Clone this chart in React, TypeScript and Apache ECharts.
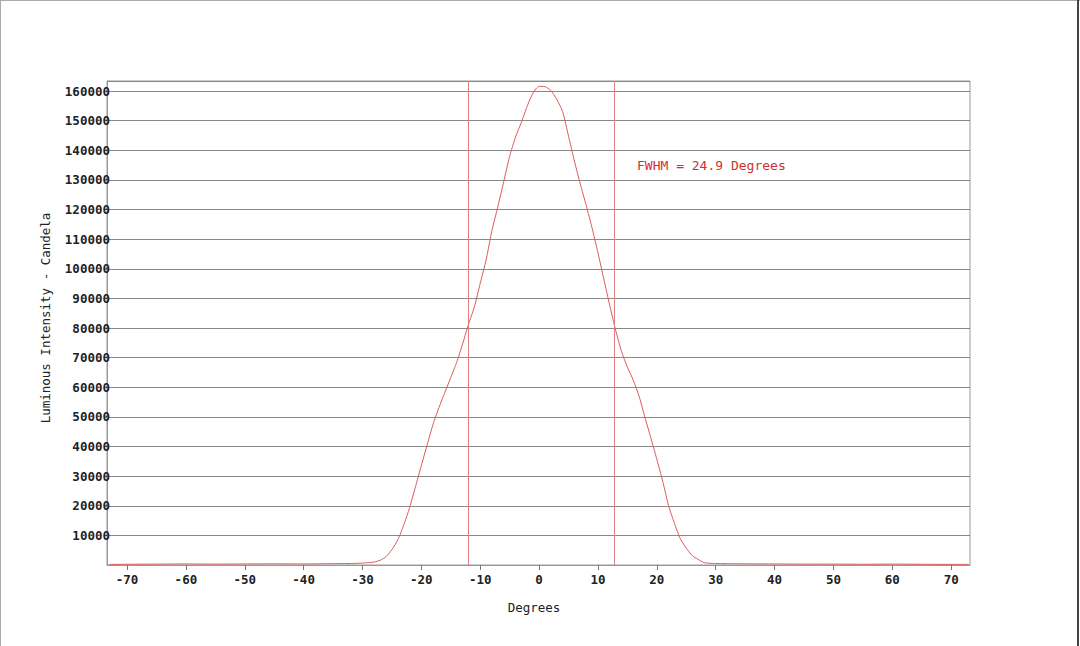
import React, { useEffect, useRef } from "react";
import * as echarts from "echarts";

const degrees = [-73,-70,-65,-60,-55,-50,-45,-40,-35,-32,-30,-29,-28,-27,-26,-25,-24,-23,-22,-21,-20,-19,-18,-17,-16,-15,-14,-13,-12,-11,-10,-9,-8,-7,-6,-5,-4,-3,-2,-1,0,1,2,3,4,5,6,7,8,9,10,11,12,13,14,15,16,17,18,19,20,21,22,23,24,25,26,27,28,29,30,32,35,40,45,50,55,60,65,70,73];
const intensity = [200,250,300,350,300,350,400,350,450,500,650,800,1000,1600,2800,5200,8500,13400,19400,26400,33600,40700,47600,53200,58300,63300,68400,74600,81200,87100,95100,103000,113000,121000,129500,138000,144500,149500,155000,159500,161600,161500,160200,157200,153100,144800,136400,128600,121400,113800,105400,96500,87600,79300,72100,66800,62400,56900,49700,42800,35700,28300,20000,14000,8800,5700,3200,1900,800,600,500,450,400,350,300,300,250,300,250,200,200];
const xTicks = [-70,-60,-50,-40,-30,-20,-10,0,10,20,30,40,50,60,70];
const fwhmBounds = [-12.05, 12.85];
const xName = "Degrees";
const yName = "Luminous Intensity - Candela";
const annotation = "FWHM = 24.9 Degrees";

const MONO = "DejaVu Sans Mono";

export default function App() {
  const ref = useRef<HTMLDivElement>(null);
  useEffect(() => {
    document.body.style.margin = "0";
    const chart = echarts.init(ref.current!, null, { renderer: "svg" });
    const data = degrees.map((d, i) => [d, intensity[i]]);
    chart.setOption({
      animation: false,
      backgroundColor: "#ffffff",
      grid: { left: 107, right: 110, top: 81, bottom: 81, show: true, borderColor: "#999", borderWidth: 1 },
      xAxis: {
        type: "value",
        min: -73.4,
        max: 73.2,
        axisLine: { show: true, onZero: false, lineStyle: { color: "#999" } },
        axisTick: { show: true, customValues: xTicks, length: 5, lineStyle: { color: "#777" } },
        axisLabel: { customValues: xTicks, margin: 8, fontFamily: MONO, fontSize: 12.5, fontWeight: "bold", color: "#222" },
        splitLine: { show: false },
      },
      yAxis: {
        type: "value",
        min: 0,
        max: 163400,
        interval: 10000,
        axisLine: { show: true, onZero: false, lineStyle: { color: "#999" } },
        axisTick: { show: true, length: 3, lineStyle: { color: "#888" } },
        axisLabel: {
          showMinLabel: false,
          showMaxLabel: false,
          margin: -3,
          formatter: (v: number) => String(v),
          fontFamily: MONO,
          fontSize: 12.5,
          fontWeight: "bold",
          color: "#222",
        },
        splitLine: { show: true, lineStyle: { color: "#888", width: 1 } },
      },
      series: [
        {
          type: "line",
          data,
          showSymbol: false,
          smooth: 0.2,
          lineStyle: { color: "#dc5a5a", width: 1 },
          markLine: {
            symbol: "none",
            silent: true,
            label: { show: false },
            lineStyle: { color: "#e08080", width: 1, type: "solid" },
            data: fwhmBounds.map((v) => ({ xAxis: v })),
          },
        },
      ],
      graphic: [
        { type: "line", shape: { x1: 0, y1: 0.5, x2: 1080, y2: 0.5 }, style: { stroke: "#aaa", lineWidth: 1 } },
        { type: "line", shape: { x1: 0.5, y1: 0, x2: 0.5, y2: 646 }, style: { stroke: "#aaa", lineWidth: 1 } },
        { type: "line", shape: { x1: 1078, y1: 0, x2: 1078, y2: 646 }, style: { stroke: "#444", lineWidth: 2 } },
        {
          type: "text",
          left: 637,
          top: 159,
          style: { text: annotation, fill: "#d03030", font: `13px '${MONO}'` },
        },
        {
          type: "text",
          x: 534,
          y: 607,
          style: { text: xName, fill: "#222", font: `12.5px '${MONO}'`, align: "center", verticalAlign: "middle" },
        },
        {
          type: "text",
          x: 45,
          y: 318,
          rotation: Math.PI / 2,
          style: { text: yName, fill: "#222", font: `12.5px '${MONO}'`, align: "center", verticalAlign: "middle" },
        },
      ],
    });
    return () => chart.dispose();
  }, []);
  return <div ref={ref} style={{ position: "fixed", left: 0, top: 0, width: 1080, height: 646 }} />;
}
